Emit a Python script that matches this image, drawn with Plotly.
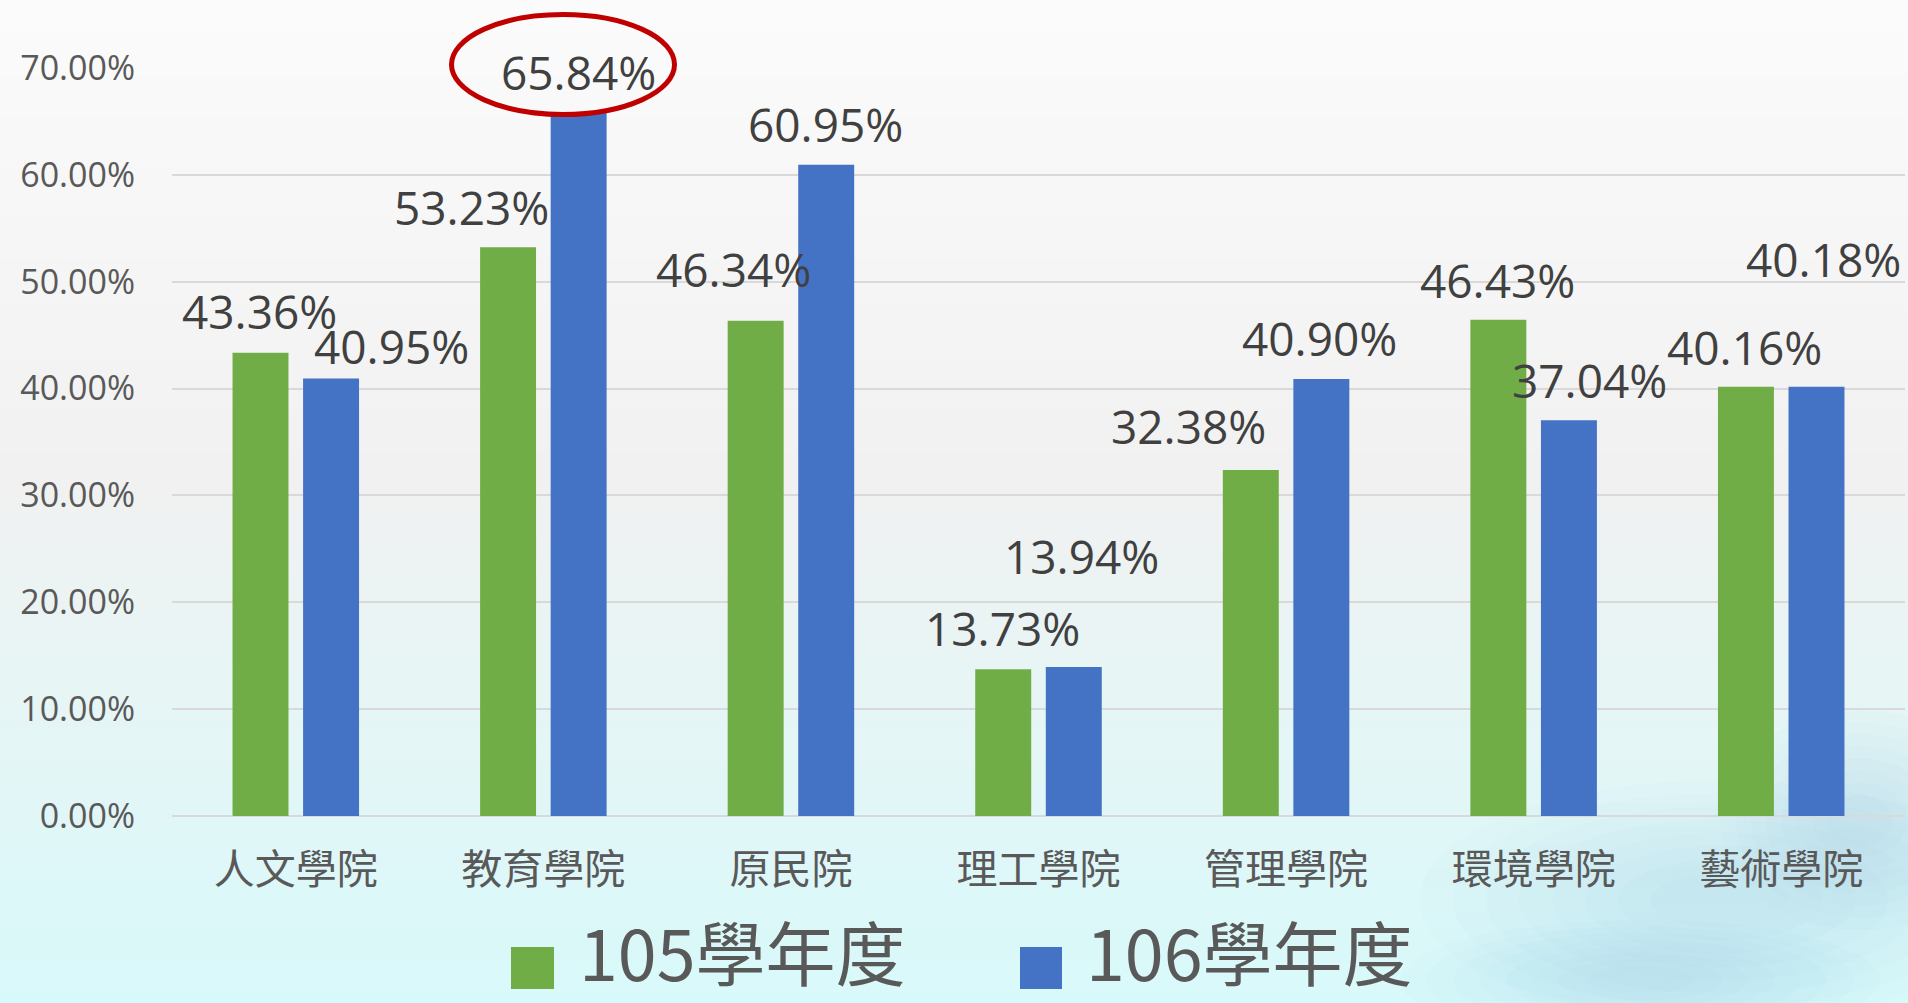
import plotly.graph_objects as go

# ---------------- data ----------------
categories = ["人文學院", "教育學院", "原民院", "理工學院", "管理學院", "環境學院", "藝術學院"]
series_names = ["105學年度", "106學年度"]
values_105 = [43.36, 53.23, 46.34, 13.73, 32.38, 46.43, 40.16]
values_106 = [40.95, 65.84, 60.95, 13.94, 40.90, 37.04, 40.18]
y_tick_values = [0, 10, 20, 30, 40, 50, 60, 70]

# ---------------- styling / placement (not data) ----------------
W, H = 1908, 1003
ML, MR, MT, MB = 172, 3, 68, 187
PW, PH = W - ML - MR, H - MT - MB
GREEN, BLUE = "#70AD47", "#4472C4"
BARGAP, GROUPGAP = 0.43, 0.207
# manual label offsets (px) relative to each bar top
dx_105 = [-1.5, -37, -22, -1, -62.5, -1, -1.5]
dy_105 = [41.6, 40, 52, 41, 44, 40, 40]
dx_106 = [60, 0, -1, 7.5, -2, 20.5, 7]
dy_106 = [32, 40.5, 41, 111, 41, 40, 128]


def xp(px):
    return (px - ML) / PW


def yp(py):
    return (H - MB - py) / PH


def hex_to_rgb(h):
    h = h.lstrip("#")
    return tuple(int(h[i:i + 2], 16) for i in (0, 2, 4))


def interp(stops, t):
    for (t0, c0), (t1, c1) in zip(stops, stops[1:]):
        if t0 <= t <= t1:
            f = (t - t0) / (t1 - t0) if t1 > t0 else 0
            a, b = hex_to_rgb(c0), hex_to_rgb(c1)
            return "rgb(%d,%d,%d)" % tuple(round(a[k] + (b[k] - a[k]) * f) for k in range(3))
    return stops[-1][1]


fig = go.Figure()
fig.add_trace(go.Bar(name=series_names[0], x=categories, y=values_105,
                     marker=dict(color=GREEN, line=dict(width=0))))
fig.add_trace(go.Bar(name=series_names[1], x=categories, y=values_106,
                     marker=dict(color=BLUE, line=dict(width=0))))

shapes = []
# background gradient
stops = [(0, "#fbfbfb"), (480, "#f1f1f1"), (690, "#e7f5f5"), (1003, "#d8f9fa")]
N = 120
for i in range(N):
    py0 = i * H / N
    py1 = (i + 1) * H / N + 1.5
    c = interp(stops, (py0 + py1) / 2)
    shapes.append(dict(type="rect", xref="paper", yref="paper", layer="below",
                       x0=xp(0), x1=xp(W), y0=yp(py1), y1=yp(py0),
                       fillcolor=c, line=dict(width=0)))
# soft, faint watercolor splash bottom-right (concentric low-opacity blobs)
for (cx, cy, rx, ry) in [(1720, 900, 300, 120), (1860, 820, 140, 110), (1640, 980, 240, 60)]:
    for k in range(8):
        s = 1 - k * 0.11
        shapes.append(dict(type="circle", xref="paper", yref="paper", layer="below",
                           x0=xp(cx - rx * s), x1=xp(cx + rx * s),
                           y0=yp(cy + ry * s), y1=yp(cy - ry * s),
                           fillcolor="rgba(150,205,232,0.035)", line=dict(width=0)))
# red highlight ellipse around 65.84%
shapes.append(dict(type="circle", xref="paper", yref="paper", layer="above",
                   x0=xp(451.5), x1=xp(674.5), y0=yp(114.5), y1=yp(14.5),
                   line=dict(color="#C00000", width=5)))
# legend squares
shapes.append(dict(type="rect", xref="paper", yref="paper", x0=xp(511), x1=xp(554),
                   y0=yp(989), y1=yp(947), fillcolor=GREEN, line=dict(width=0)))
shapes.append(dict(type="rect", xref="paper", yref="paper", x0=xp(1020), x1=xp(1062),
                   y0=yp(989), y1=yp(947), fillcolor=BLUE, line=dict(width=0)))

annotations = []
cat_w = PW / len(categories)
half_off = cat_w * (1 - BARGAP) / 4
label_font = dict(family="Open Sans, Noto Sans", size=46, color="#404040")
for i, cat in enumerate(categories):
    annotations.append(dict(x=cat, y=values_105[i], xref="x", yref="y",
                            text=f"{values_105[i]:.2f}%", showarrow=False,
                            xanchor="center", yanchor="middle",
                            xshift=-half_off + dx_105[i], yshift=dy_105[i], font=label_font))
    annotations.append(dict(x=cat, y=values_106[i], xref="x", yref="y",
                            text=f"{values_106[i]:.2f}%", showarrow=False,
                            xanchor="center", yanchor="middle",
                            xshift=half_off + dx_106[i], yshift=dy_106[i], font=label_font))
# legend text
leg_font = dict(family="Noto Sans CJK TC", size=70, color="#595959")
annotations.append(dict(x=xp(578), y=yp(1002), xref="paper", yref="paper", text=series_names[0],
                        showarrow=False, xanchor="left", yanchor="bottom", font=leg_font,
                        borderpad=0))
annotations.append(dict(x=xp(1085), y=yp(1002), xref="paper", yref="paper", text=series_names[1],
                        showarrow=False, xanchor="left", yanchor="bottom", font=leg_font,
                        borderpad=0))

fig.update_layout(
    width=W, height=H,
    margin=dict(l=ML, r=MR, t=MT, b=MB, pad=0),
    paper_bgcolor="#f2f4f4",
    plot_bgcolor="rgba(0,0,0,0)",
    barmode="group", bargap=BARGAP, bargroupgap=GROUPGAP,
    showlegend=False,
    shapes=shapes,
    annotations=annotations,
    xaxis=dict(categoryorder="array", categoryarray=categories,
               tickfont=dict(family="Noto Sans CJK TC", size=41, color="#595959"),
               showgrid=False, zeroline=False, showline=False, ticks="",
               ticklabelstandoff=26),
    yaxis=dict(range=[0, 70], tickvals=y_tick_values,
               ticktext=[f"{v:.2f}%" for v in y_tick_values],
               tickfont=dict(family="Open Sans", size=34, color="#595959"),
               showgrid=True, gridcolor="#d9d9d9", gridwidth=1.5,
               zeroline=True, zerolinecolor="#d9d9d9", zerolinewidth=1.5,
               showline=False, ticks="", ticklabelstandoff=36),
)
for tr in fig.data:
    tr.cliponaxis = False

fig.write_html("out.html", config={"displayModeBar": False},
               post_script="document.body.style.margin='0';document.body.style.overflow='hidden';")
